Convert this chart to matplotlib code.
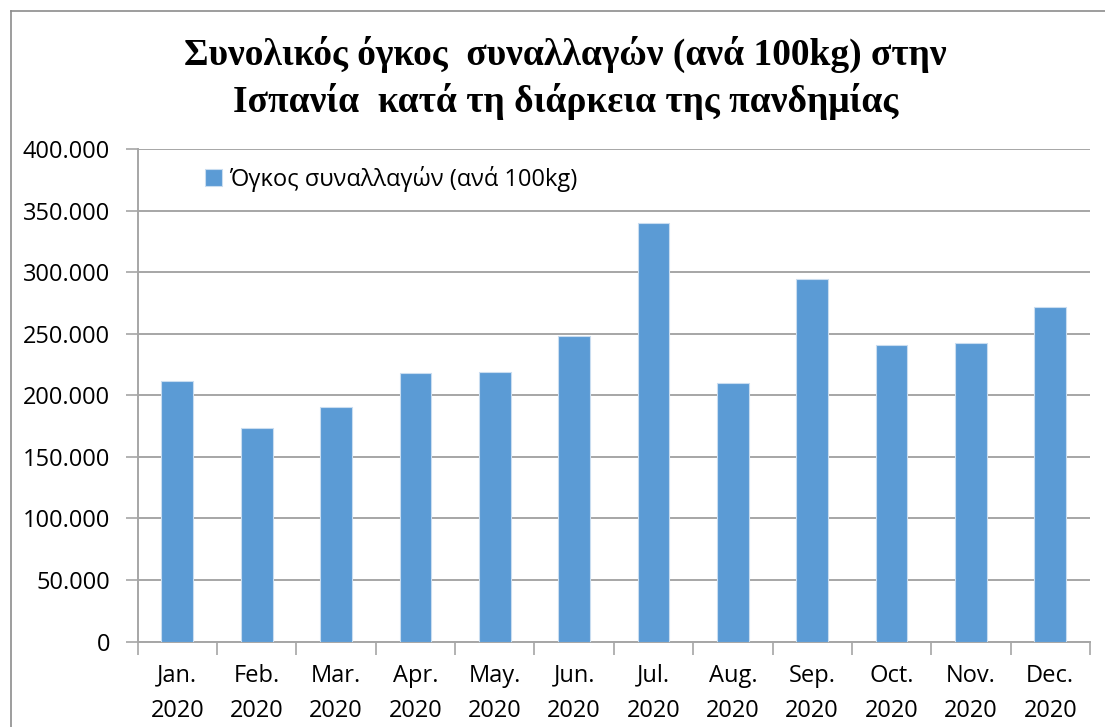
import matplotlib
matplotlib.use("Agg")
import matplotlib.pyplot as plt
from matplotlib.lines import Line2D
from matplotlib.ticker import FuncFormatter, MultipleLocator
import numpy as np

months = ["Jan.", "Feb.", "Mar.", "Apr.", "May.", "Jun.",
          "Jul.", "Aug.", "Sep.", "Oct.", "Nov.", "Dec."]
year = "2020"
volume = [211400, 173200, 190200, 217900, 219000, 248200,
          340300, 209800, 294300, 241100, 242800, 271500]

title = "Συνολικός όγκος  συναλλαγών (ανά 100kg) στην\nΙσπανία  κατά τη διάρκεια της πανδημίας"
series_name = "Όγκος συναλλαγών (ανά 100kg)"

bar_color = "#5B9BD5"
grid_color = "#A6A6A6"
label_font = ["Open Sans", "DejaVu Sans"]

fig = plt.figure(figsize=(11.05, 7.27), dpi=100)
ax = fig.add_axes([0.1246, 0.1176, 0.8618, 0.677])

x = np.arange(len(months))
ax.bar(x, volume, width=0.4, color=bar_color, edgecolor="#C9DDF0",
       linewidth=0.8, label=series_name, zorder=3)

ax.set_xlim(-0.5, len(months) - 0.5)
ax.set_ylim(0, 400000)
ax.yaxis.set_major_locator(MultipleLocator(50000))
ax.yaxis.set_major_formatter(FuncFormatter(
    lambda v, p: "0" if v == 0 else f"{int(v):,}".replace(",", ".")))
ax.grid(axis="y", color=grid_color, linewidth=1.4, zorder=0)

# category labels centred, ticks between categories
ax.set_xticks(x)
ax.set_xticklabels([f"{m}\n{year}" for m in months], linespacing=1.6)
ax.tick_params(axis="x", length=0, pad=16)
ax.set_xticks(np.arange(-0.5, len(months)), minor=True)
ax.tick_params(axis="x", which="minor", length=9, width=1.2, color=grid_color)
ax.tick_params(axis="y", length=9, width=1.2, color=grid_color, pad=11)
for lab in ax.get_xticklabels() + ax.get_yticklabels():
    lab.set_fontfamily(label_font)
    lab.set_fontsize(17)

for side in ["top", "right"]:
    ax.spines[side].set_visible(False)
for side in ["left", "bottom"]:
    ax.spines[side].set_color(grid_color)
    ax.spines[side].set_linewidth(1.4)

leg = ax.legend(loc="upper left", bbox_to_anchor=(0.048, 1.01), frameon=False,
                handlelength=0.75, handleheight=0.75, handletextpad=0.3,
                prop={"family": label_font, "size": 17})

fig.text(0.512, 0.893, title, ha="center", va="center",
         fontfamily="Liberation Serif", fontweight="bold", fontsize=27,
         linespacing=1.35)

# outer chart frame
fig.add_artist(Line2D([0.01, 0.01], [0.0, 0.985], transform=fig.transFigure,
                      color="#8C8C8C", linewidth=1.2))
fig.add_artist(Line2D([0.01, 1.0], [0.985, 0.985], transform=fig.transFigure,
                      color="#8C8C8C", linewidth=1.2))

fig.savefig("out.png", dpi=100)
